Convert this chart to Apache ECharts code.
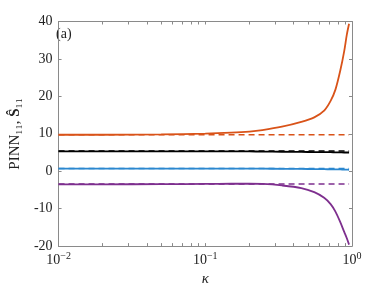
<!DOCTYPE html>
<html>
<head>
<meta charset="utf-8">
<script src="https://cdn.jsdelivr.net/npm/echarts@6/dist/echarts.min.js"></script>
<style>html,body{margin:0;padding:0;background:#fff}#c{width:389px;height:292px}</style>
</head>
<body>
<div id="c"></div>
<script>
const kappa = [0.01, 0.02, 0.05, 0.1, 0.15, 0.2, 0.245, 0.333, 0.451, 0.553, 0.646, 0.715, 0.771, 0.832, 0.885, 0.922, 0.955];
const orangeSolid = [9.75, 9.75, 9.85, 10.05, 10.3, 10.6, 11.0, 11.9, 13.2, 14.4, 16.2, 18.8, 21.8, 26.9, 32.1, 36.5, 39.4];
const orangeDashed = [9.75, 9.75, 9.75, 9.75, 9.75, 9.75, 9.75, 9.75, 9.75, 9.75, 9.75, 9.75, 9.75, 9.75, 9.75, 9.75, 9.75];
const blackSolid = [5.3, 5.3, 5.3, 5.3, 5.3, 5.28, 5.25, 5.2, 5.15, 5.12, 5.1, 5.08, 5.05, 5.02, 5.0, 5.0, 5.0];
const blackDashed = [5.4, 5.4, 5.4, 5.4, 5.4, 5.4, 5.4, 5.4, 5.4, 5.4, 5.4, 5.4, 5.4, 5.4, 5.4, 5.4, 5.4];
const blueSolid = [0.7, 0.7, 0.7, 0.7, 0.7, 0.7, 0.68, 0.65, 0.62, 0.58, 0.55, 0.52, 0.5, 0.47, 0.45, 0.42, 0.4];
const blueDashed = [0.75, 0.75, 0.75, 0.75, 0.75, 0.75, 0.75, 0.75, 0.75, 0.75, 0.75, 0.75, 0.75, 0.75, 0.75, 0.75, 0.75];
const purpleSolid = [-3.5, -3.5, -3.45, -3.4, -3.35, -3.35, -3.4, -3.8, -4.5, -5.6, -7.1, -8.8, -10.8, -13.6, -16.2, -17.9, -19.6];
const purpleDashed = [-3.4, -3.4, -3.4, -3.4, -3.4, -3.4, -3.4, -3.4, -3.4, -3.4, -3.4, -3.4, -3.4, -3.4, -3.4, -3.4, -3.4];
const xTickValues = [0.01,0.02,0.03,0.04,0.05,0.06,0.07,0.08,0.09,0.1,0.2,0.3,0.4,0.5,0.6,0.7,0.8,0.9,1];
const yTicks = [-20, -10, 0, 10, 20, 30, 40];

const FONT = '"Liberation Serif", "DejaVu Serif", serif';
const AX = '#8a8a8a';
const C = { orange: '#D95319', black: '#000000', blue: '#2B87CF', purple: '#7E2F8E' };

function pair(k, v) { return k.map((x, i) => [x, v[i]]); }
function solid(name, v, color) {
  return { name, type: 'line', data: pair(kappa, v), showSymbol: false, smooth: 0.3,
    lineStyle: { color, width: 1.8, type: 'solid' }, z: 2, animation: false };
}
function dashed(name, v, color) {
  return { name, type: 'line', data: pair(kappa, v), showSymbol: false,
    lineStyle: { color, width: 1.5, type: [6, 4] }, z: 3, animation: false };
}

const chart = echarts.init(document.getElementById('c'), null, { renderer: 'canvas' });
const xCommon = {
  type: 'log', logBase: 10, min: 0.01, max: 1, gridIndex: 0,
  axisLine: { show: true, onZero: false, lineStyle: { color: AX, width: 1 } },
  axisTick: { show: true, inside: true, length: 3, lineStyle: { color: AX }, customValues: xTickValues },
  splitLine: { show: false }, minorTick: { show: false }
};
const yCommon = {
  type: 'value', min: -20, max: 40, interval: 10, gridIndex: 0,
  axisLine: { show: true, onZero: false, lineStyle: { color: AX, width: 1 } },
  axisTick: { show: true, inside: true, length: 3, lineStyle: { color: AX } },
  splitLine: { show: false }
};
chart.setOption({
  animation: false,
  grid: { left: 51, right: 37, top: 21.5, bottom: 41, containLabel: false },
  xAxis: [
    Object.assign({}, xCommon, {
      position: 'bottom',
      name: 'κ', nameLocation: 'middle', nameGap: 25,
      nameTextStyle: { fontFamily: FONT, fontStyle: 'italic', fontSize: 15, color: '#222' },
      axisLabel: {
        show: true, margin: 5, color: '#222',
        formatter: function (v) {
          const e = Math.round(Math.log10(v));
          return '{b|10}{s|' + (e < 0 ? '−' + (-e) : e) + '}';
        },
        rich: {
          b: { fontFamily: FONT, fontSize: 14, color: '#222' },
          s: { fontFamily: FONT, fontSize: 10, color: '#222', padding: [0, 0, 8, 0] }
        }
      }
    }),
    Object.assign({}, xCommon, { position: 'top', axisLabel: { show: false } })
  ],
  yAxis: [
    Object.assign({}, yCommon, {
      position: 'left',
      name: '{n|PINN₁₁, }{b|Ŝ}{n|₁₁}', nameLocation: 'middle', nameGap: 28, nameRotate: 90,
      nameTextStyle: {
        rich: {
          n: { fontFamily: FONT, fontSize: 15, color: '#222' },
          b: { fontFamily: FONT, fontSize: 15, fontWeight: 'bold', color: '#222' }
        }
      },
      axisLabel: { show: true, margin: 6, fontFamily: FONT, fontSize: 14, color: '#222',
        customValues: yTicks }
    }),
    Object.assign({}, yCommon, { position: 'right', axisLabel: { show: false } })
  ],
  graphic: [{ type: 'text', left: 56, top: 27,
    style: { text: '(a)', fontFamily: FONT, fontSize: 14, fill: '#222' } }],
  series: [
    solid('orange', orangeSolid, C.orange),
    solid('black', blackSolid, C.black),
    solid('blue', blueSolid, C.blue),
    solid('purple', purpleSolid, C.purple),
    dashed('orange ref', orangeDashed, C.orange),
    dashed('black ref', blackDashed, C.black),
    dashed('blue ref', blueDashed, C.blue),
    dashed('purple ref', purpleDashed, C.purple)
  ]
});
</script>
</body>
</html>
